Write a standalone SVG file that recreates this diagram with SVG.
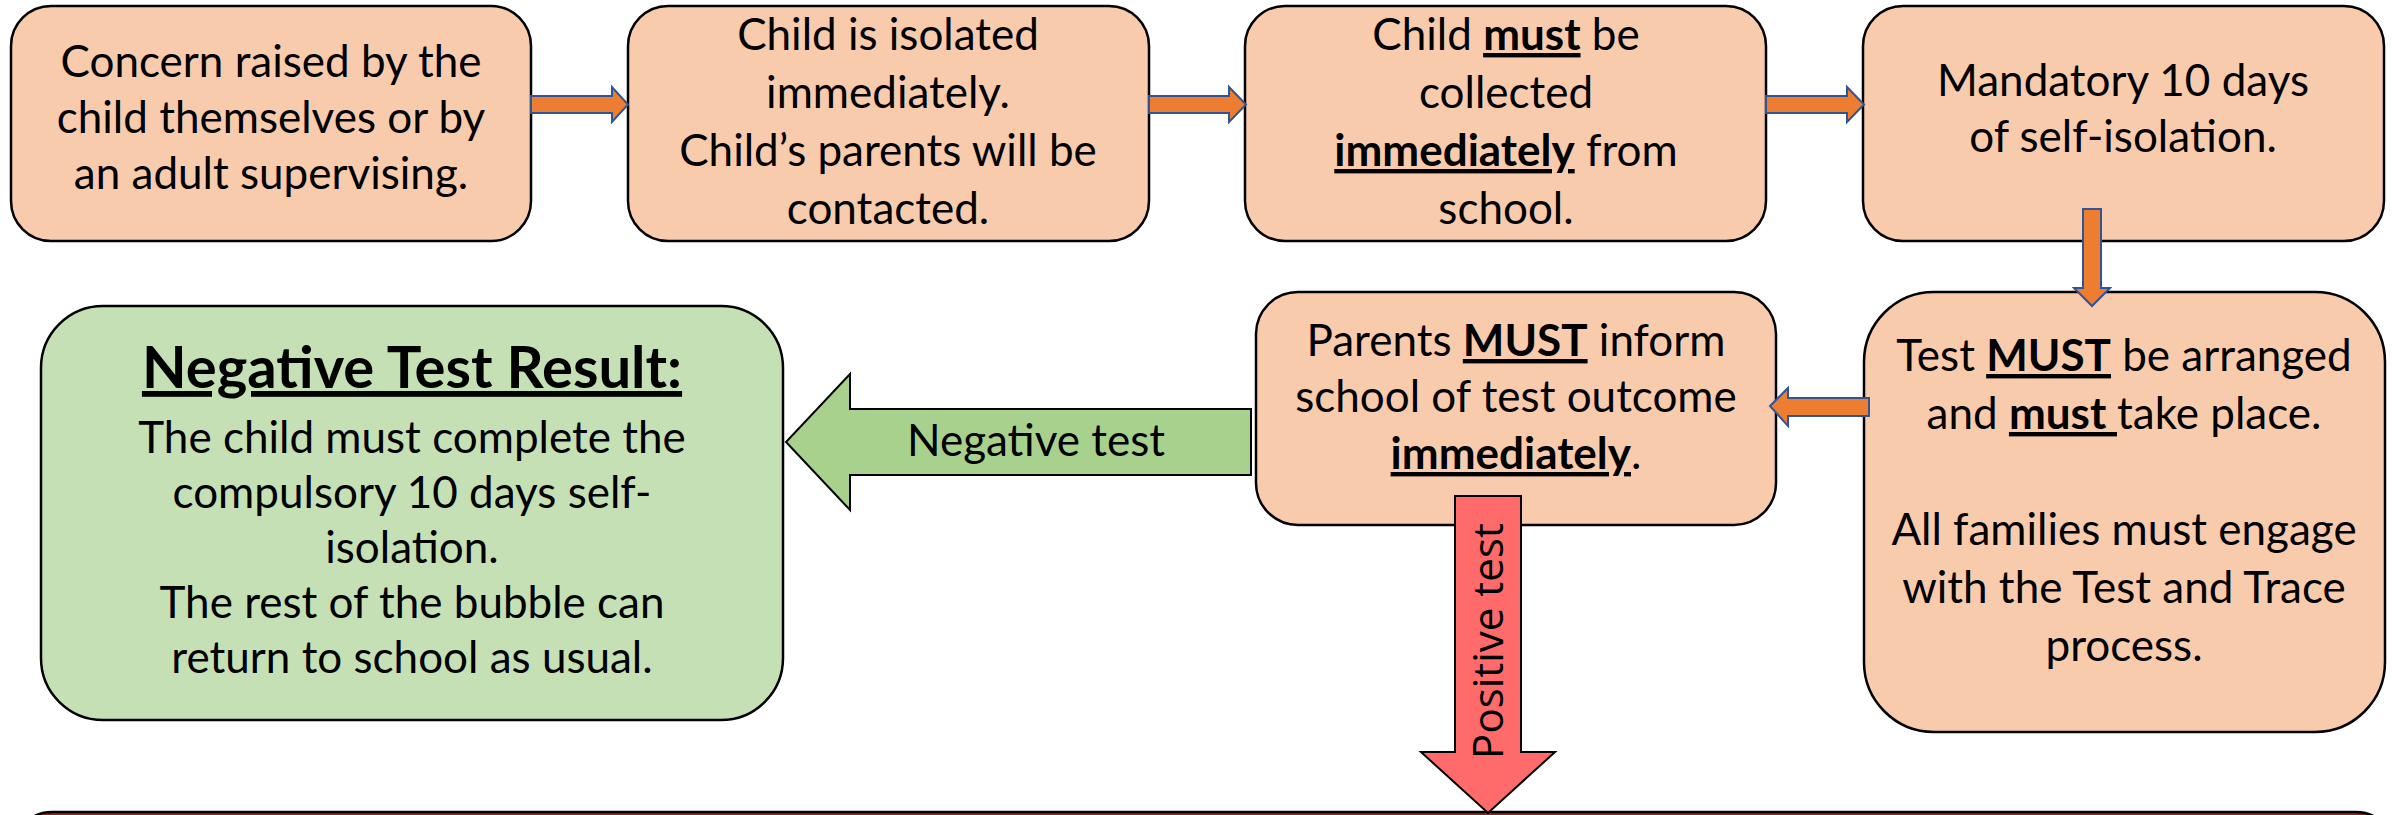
<svg xmlns="http://www.w3.org/2000/svg" width="2408" height="815" viewBox="0 0 2408 815">
<style>
.box{fill:#F8CBAD;stroke:#000;stroke-width:2.5}
.green{fill:#C5E0B4;stroke:#000;stroke-width:2.5}
.oarr{fill:#ED7D31;stroke:#2F5597;stroke-width:2}
.garr{fill:#A9D18E;stroke:#000;stroke-width:2}
.rarr{fill:#FF6B6B;stroke:#000;stroke-width:2}
.t{font-family:Lato,"Open Sans",sans-serif;font-size:44px;text-anchor:middle;fill:#000}
.b{font-weight:bold;text-decoration:underline}
.title{font-family:Lato,"Open Sans",sans-serif;font-size:58px;font-weight:bold;text-decoration:underline;text-anchor:middle}
.lbl{font-family:"Open Sans",sans-serif;font-size:42px;text-anchor:middle}
</style>
<rect width="2408" height="815" fill="#fff"/>
<g id="bottom-box"><rect x="12" y="812" width="2384" height="80" rx="40" fill="#8E2424" stroke="#000" stroke-width="2.5"/></g>
<g id="node-concern"><rect class="box" x="11" y="6" width="520" height="235" rx="40"/>
<text class="t"><tspan x="271" y="77">Concern raised by the</tspan><tspan x="271" y="133">child themselves or by</tspan><tspan x="271" y="189">an adult supervising.</tspan></text></g>
<g id="node-isolated"><rect class="box" x="628" y="6" width="521" height="235" rx="40"/>
<text class="t"><tspan x="888" y="50">Child is isolated</tspan><tspan x="888" y="108">immediately.</tspan><tspan x="888" y="166">Child’s parents will be</tspan><tspan x="888" y="224">contacted.</tspan></text></g>
<g id="node-collected"><rect class="box" x="1245" y="6" width="521" height="235" rx="40"/>
<text class="t"><tspan x="1506" y="50">Child <tspan class="b">must</tspan> be</tspan><tspan x="1506" y="108">collected</tspan><tspan x="1506" y="166"><tspan class="b">immediately</tspan> from</tspan><tspan x="1506" y="224">school.</tspan></text></g>
<g id="node-mandatory"><rect class="box" x="1863" y="6" width="521" height="235" rx="40"/>
<text class="t"><tspan x="2123" y="96">Mandatory 10 days</tspan><tspan x="2123" y="152">of self-isolation.</tspan></text></g>
<g id="node-test"><rect class="box" x="1864" y="292" width="521" height="440" rx="70"/>
<text class="t"><tspan x="2124" y="371">Test <tspan class="b">MUST</tspan> be arranged</tspan><tspan x="2124" y="429">and <tspan class="b">must </tspan>take place.</tspan><tspan x="2124" y="545">All families must engage</tspan><tspan x="2124" y="603">with the Test and Trace</tspan><tspan x="2124" y="661">process.</tspan></text></g>
<g id="node-parents"><rect class="box" x="1256" y="292" width="520" height="233" rx="42"/>
<text class="t"><tspan x="1516" y="356">Parents <tspan class="b">MUST</tspan> inform</tspan><tspan x="1516" y="412">school of test outcome</tspan><tspan x="1516" y="469"><tspan class="b">immediately</tspan>.</tspan></text></g>
<g id="node-negative"><rect class="green" x="41" y="306" width="742" height="414" rx="62"/>
<text class="title" x="412" y="388">Negative Test Result:</text>
<text class="t"><tspan x="412" y="453">The child must complete the</tspan><tspan x="412" y="508">compulsory 10 days self-</tspan><tspan x="412" y="563">isolation.</tspan><tspan x="412" y="618">The rest of the bubble can</tspan><tspan x="412" y="673">return to school as usual.</tspan></text></g>
<g id="connectors">
<path class="oarr" d="M531,96 H612 V87 L628,104.5 L612,122 V113 H531 Z"/>
<path class="oarr" d="M1149,96 H1229 V87 L1246,104.5 L1229,122 V113 H1149 Z"/>
<path class="oarr" d="M1766,96 H1847 V87 L1864,104.5 L1847,122 V113 H1766 Z"/>
<path class="oarr" d="M2083,209 V288 H2074 L2092,306 L2110,288 H2101 V209 Z"/>
<path class="oarr" d="M1869,398 H1788 V388 L1770,406 L1788,426 V416 H1869 Z"/>
<g id="edge-negative"><path class="garr" d="M1251,409 H850 V374 L786,442 L850,510 V475 H1251 Z"/>
<text class="t" x="1036" y="456">Negative test</text></g>
<g id="edge-positive"><path class="rarr" d="M1455,496 H1521 V752 H1555 L1488,813 L1421,752 H1455 Z"/>
<text class="lbl" transform="translate(1503,641) rotate(-90)">Positive test</text></g>
</g>
</svg>
